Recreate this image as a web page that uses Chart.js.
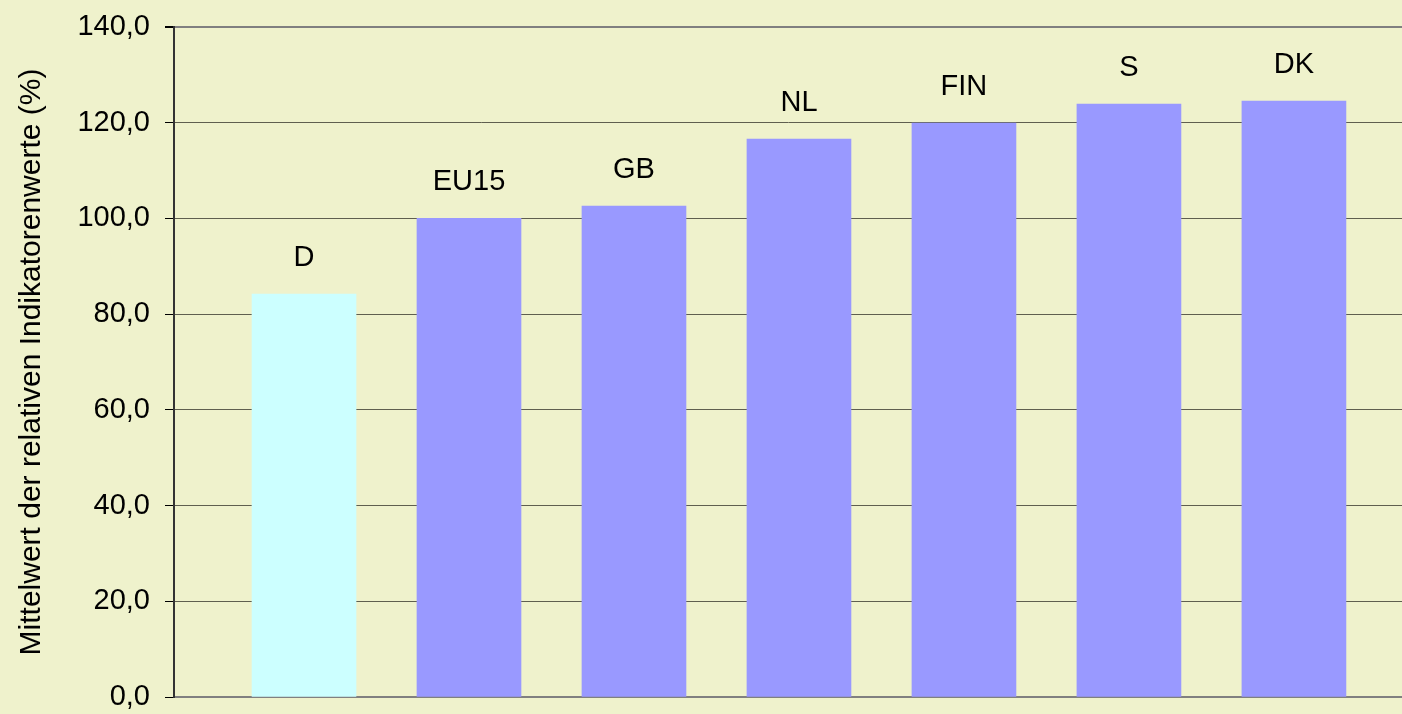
<!DOCTYPE html>
<html>
<head>
<meta charset="utf-8">
<script src="https://cdn.jsdelivr.net/npm/chart.js@4/dist/chart.umd.min.js"></script>
<style>
  html, body { margin: 0; padding: 0; background: #eff2cc; overflow: hidden; }
  #wrap { width: 1402px; height: 714px; }
</style>
</head>
<body>
<div id="wrap"><canvas id="myChart"></canvas></div>
<script>
  // Laender und Mittelwerte
  const countries = ['D', 'EU15', 'GB', 'NL', 'FIN', 'S', 'DK'];
  const values = [84.2, 100.0, 102.6, 116.6, 119.9, 123.9, 124.5];
  const barColors = ['#ccffff', '#9999ff', '#9999ff', '#9999ff', '#9999ff', '#9999ff', '#9999ff'];
  const yTicks = [0, 20, 40, 60, 80, 100, 120, 140];
  const yTitle = 'Mittelwert der relativen Indikatorenwerte (%)';

  const sans = "'Liberation Sans', Arial, sans-serif";

  const barLabels = {
    id: 'barLabels',
    afterDatasetsDraw(chart) {
      const ctx = chart.ctx;
      const meta = chart.getDatasetMeta(0);
      ctx.save();
      ctx.font = '29px ' + sans;
      ctx.fillStyle = '#000';
      ctx.textAlign = 'center';
      ctx.textBaseline = 'alphabetic';
      meta.data.forEach((bar, i) => {
        ctx.fillText(countries[i], bar.x, bar.y - 28);
      });
      ctx.restore();
    }
  };

  const ctx = document.getElementById('myChart').getContext('2d');
  new Chart(ctx, {
    type: 'bar',
    data: {
      datasets: [{
        data: values.map((v, i) => ({ x: i + 1, y: v })),
        backgroundColor: barColors,
        borderWidth: 0,
        barThickness: 104
      }]
    },
    options: {
      responsive: true,
      maintainAspectRatio: false,
      animation: false,
      layout: { padding: { top: 27, bottom: 17, left: 0, right: 0 } },
      plugins: { legend: { display: false }, tooltip: { enabled: false } },
      scales: {
        x: {
          type: 'linear',
          offset: false,
          min: 0.212,
          max: 7.655,
          grid: { display: false, drawTicks: false },
          ticks: { display: false },
          border: { display: true, color: '#808080', width: 2 },
          afterFit(scale) { scale.height = 0; scale.paddingLeft = 0; scale.paddingRight = 0; }
        },
        y: {
          min: 0,
          max: 140,
          afterBuildTicks(scale) { scale.ticks = yTicks.map(v => ({ value: v })); },
          ticks: {
            color: '#000',
            font: { family: sans, size: 29 },
            padding: 15,
            callback: v => v.toFixed(1).replace('.', ',')
          },
          grid: {
            color: c => (c.tick && c.tick.value === 140) ? '#808080' : '#5f5f4f',
            lineWidth: c => (c.tick && c.tick.value === 140) ? 2 : 1,
            tickLength: 9,
            tickColor: '#000'
          },
          border: { display: true, color: '#333333', width: 2 },
          title: {
            display: true,
            text: yTitle,
            color: '#000',
            font: { family: sans, size: 30 },
            padding: { top: 14, bottom: 0 }
          },
          afterFit(scale) { scale.width = 174; scale.paddingTop = 0; scale.paddingBottom = 0; }
        }
      }
    },
    plugins: [barLabels]
  });
</script>
</body>
</html>
